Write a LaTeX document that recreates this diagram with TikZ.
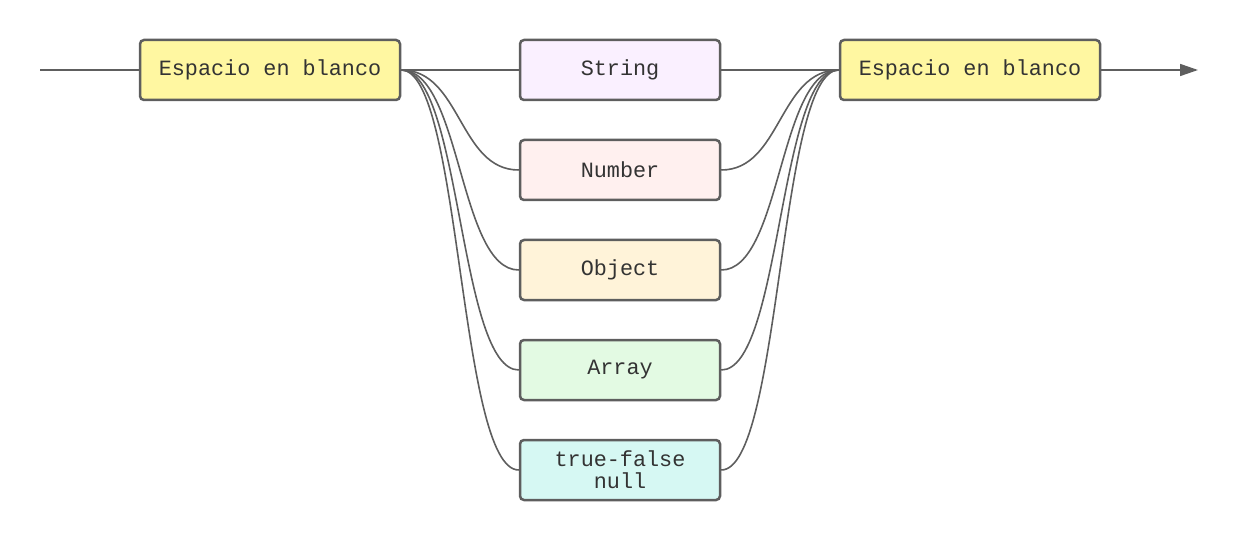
\documentclass[tikz,border=0pt]{standalone}
\usepackage{fontspec}
\setmonofont{Liberation Mono}
\usetikzlibrary{arrows.meta,calc}
\definecolor{edge}{HTML}{5E5E5E}
\definecolor{txt}{HTML}{333333}
\definecolor{cyel}{HTML}{FFF7A1}
\definecolor{cstr}{HTML}{FAF0FF}
\definecolor{cnum}{HTML}{FFF0EF}
\definecolor{cobj}{HTML}{FFF3D9}
\definecolor{carr}{HTML}{E3FAE3}
\definecolor{cbool}{HTML}{D6F8F3}
\tikzset{
  box/.style={draw=edge, line width=2.5pt, rounded corners=4pt, minimum height=60pt,
    inner sep=0pt, text=txt, font=\fontsize{21.8}{22}\selectfont\ttfamily, align=center},
  wide/.style={box, minimum width=260pt},
  narrow/.style={box, minimum width=200pt},
  conn/.style={draw=edge, line width=1.6pt}
}
\begin{document}
\begin{tikzpicture}[x=1pt,y=-1pt]
\useasboundingbox (0,0) rectangle (1237,540);
\coordinate (start) at (40,70);
\coordinate (end) at (1198,70);
\node[wide, fill=cyel] (ws1) at (270,70) {Espacio en blanco};
\node[wide, fill=cyel] (ws2) at (970,70) {Espacio en blanco};
\node[narrow, fill=cstr] (s) at (620,70) {String};
\node[narrow, fill=cnum] (n) at (620,170) {Number};
\node[narrow, fill=cobj] (o) at (620,270) {Object};
\node[narrow, fill=carr] (a) at (620,370) {Array};
\node[narrow, fill=cbool] (b) at (620,470) {true-false\\null};
\draw[conn] (start) -- (ws1.west);
\draw[conn, -{Triangle[length=18pt,width=12pt]}] (ws2.east) -- (end);
\foreach \t in {s,n,o,a,b}{
  \draw[conn] (ws1.east) .. controls +(60,0) and ($(\t.west)+(-60,0)$) .. (\t.west);
  \draw[conn] (\t.east) .. controls +(60,0) and ($(ws2.west)+(-60,0)$) .. (ws2.west);
}
\end{tikzpicture}
\end{document}
